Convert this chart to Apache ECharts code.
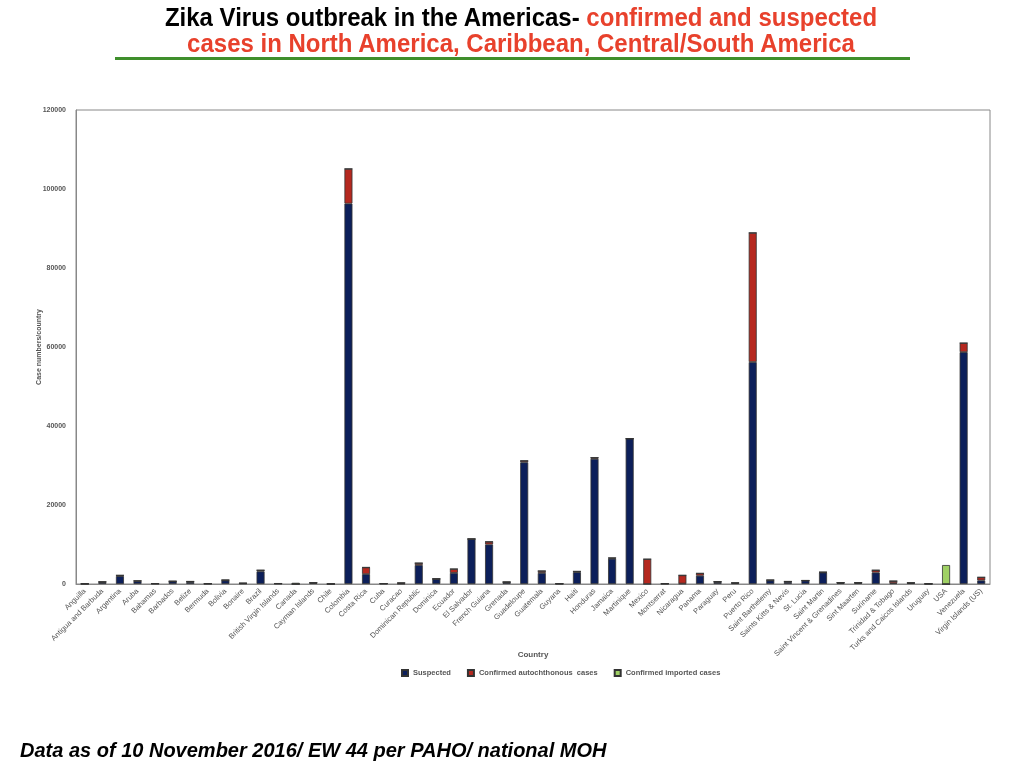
<!DOCTYPE html>
<html>
<head>
<meta charset="utf-8">
<script src="https://cdn.jsdelivr.net/npm/echarts@6/dist/echarts.min.js"></script>
<style>
  html, body { margin: 0; padding: 0; background: #fff; }
  #page { position: relative; width: 1024px; height: 768px; overflow: hidden; }
  #title { position: absolute; left: 9px; top: 4px; width: 1024px; text-align: center;
    font-family: "Liberation Sans", Arial, sans-serif; font-weight: bold;
    font-size: 25px; line-height: 26px; color: #000; transform: scaleX(0.96); transform-origin: 512px 0; }
  #title .red { color: #e8412c; }
  #rule { position: absolute; left: 115px; top: 57px; width: 795px; height: 3px; background: #3f8f2c; }
  #chart { position: absolute; left: 0; top: 0; width: 1024px; height: 768px; }
  #foot { position: absolute; left: 20px; top: 739px; font-family: "Liberation Sans", Arial, sans-serif;
    font-weight: bold; font-style: italic; font-size: 20px; color: #000; }
</style>
</head>
<body>
<div id="page">
  <div id="chart"></div>
  <div id="title">Zika Virus outbreak in the Americas- <span class="red">confirmed and suspected<br>cases in North America, Caribbean, Central/South America</span></div>
  <div id="rule"></div>
  <div id="foot">Data as of 10 November 2016/ EW 44 per PAHO/ national MOH</div>
</div>
<script>
// countries along the x axis
const countries = [
  'Anguilla', 'Antigua and Barbuda', 'Argentina', 'Aruba', 'Bahamas', 'Barbados', 'Belize',
  'Bermuda', 'Bolivia', 'Bonaire', 'Brazil', 'British Virgin Islands', 'Canada', 'Cayman Islands',
  'Chile', 'Colombia', 'Costa Rica', 'Cuba', 'Curacao', 'Dominican Republic', 'Dominica',
  'Ecuador', 'El Salvador', 'French Guiana', 'Grenada', 'Guadeloupe', 'Guatemala', 'Guyana',
  'Haiti', 'Honduras', 'Jamaica', 'Martinique', 'Mexico', 'Montserrat', 'Nicaragua', 'Panama',
  'Paraguay', 'Peru', 'Puerto Rico', 'Saint Barthelemy', 'Saints Kitts & Nevis', 'St. Lucia',
  'Saint Martin', 'Saint Vincent & Grenadines', 'Sint Maarten', 'Suriname', 'Trinidad & Tobago',
  'Turks and Caicos Islands', 'Uruguay', 'USA', 'Venezuela', 'Virgin Islands (US)'
]
const suspected = [
  40, 450, 2000, 700, 80, 650, 500,
  60, 900, 120, 3200, 80, 0, 250,
  0, 96300, 2500, 80, 50, 4800, 1300,
  2800, 11400, 10000, 450, 30800, 2800, 20,
  3000, 31700, 6400, 36800, 0, 60, 100, 2100,
  500, 200, 56200, 900, 500, 850,
  2900, 250, 250, 2900, 200,
  250, 30, 0, 58700, 900
]
const autochthonous = [
  20, 100, 200, 100, 30, 50, 150,
  40, 100, 100, 300, 50, 0, 80,
  30, 8800, 1700, 40, 250, 500, 0,
  1000, 0, 700, 50, 400, 500, 100,
  200, 300, 200, 0, 6300, 50, 2100, 600,
  100, 100, 32700, 100, 150, 50,
  100, 100, 100, 600, 550,
  50, 30, 0, 2300, 800
]
const imported = [
  0, 0, 0, 0, 0, 0, 0,
  0, 0, 0, 0, 0, 300, 0,
  0, 0, 0, 0, 0, 0, 0,
  0, 0, 0, 0, 0, 0, 0,
  0, 0, 0, 0, 0, 0, 0, 0,
  0, 0, 0, 0, 0, 0,
  0, 0, 0, 0, 0,
  0, 0, 4800, 0, 0
]
const yTicks = { min: 0, max: 120000, interval: 20000 }

const chart = echarts.init(document.getElementById('chart'))
const txt = '#555'
const fam = '"Liberation Sans", Arial, sans-serif'
const barStyle = color => ({ color: color, borderColor: '#333', borderWidth: 0.8 })

chart.setOption({
  animation: false,
  textStyle: { fontFamily: fam },
  grid: { left: 76, right: 34, top: 110, bottom: 184, show: true, borderColor: '#888', borderWidth: 1 },
  legend: {
    bottom: 86, left: 396, itemWidth: 6, itemHeight: 6, itemGap: 16, icon: 'rect',
    textStyle: { color: txt, fontSize: 7.5, fontWeight: 'bold', fontFamily: fam },
    data: ['Suspected', 'Confirmed autochthonous  cases', 'Confirmed imported cases']
  },
  xAxis: {
    type: 'category', data: countries, name: 'Country', nameLocation: 'middle', nameGap: 67,
    nameMoveOverlap: false,
    nameTextStyle: { color: txt, fontSize: 8, fontWeight: 'bold' },
    axisLine: { lineStyle: { color: '#888' } },
    axisTick: { show: false },
    axisLabel: { interval: 0, rotate: 45, color: txt, fontSize: 7.5, margin: 6 }
  },
  yAxis: {
    type: 'value', min: yTicks.min, max: yTicks.max, interval: yTicks.interval,
    name: 'Case numbers/country', nameLocation: 'middle', nameGap: 33,
    nameMoveOverlap: false,
    nameTextStyle: { color: txt, fontSize: 7, fontWeight: 'bold' },
    axisLine: { show: true, lineStyle: { color: '#888' } },
    axisTick: { show: false },
    splitLine: { show: false },
    axisLabel: { color: txt, fontSize: 7, fontWeight: 'bold', margin: 10, formatter: v => String(v) }
  },
  series: [
    { name: 'Suspected', type: 'bar', stack: 'c', barWidth: 8, data: suspected, itemStyle: barStyle('#0c1f5a') },
    { name: 'Confirmed autochthonous  cases', type: 'bar', stack: 'c', barWidth: 8, data: autochthonous, itemStyle: barStyle('#b5281f') },
    { name: 'Confirmed imported cases', type: 'bar', stack: 'c', barWidth: 8, data: imported, itemStyle: barStyle('#9fd064') }
  ]
})
</script>
</body>
</html>
